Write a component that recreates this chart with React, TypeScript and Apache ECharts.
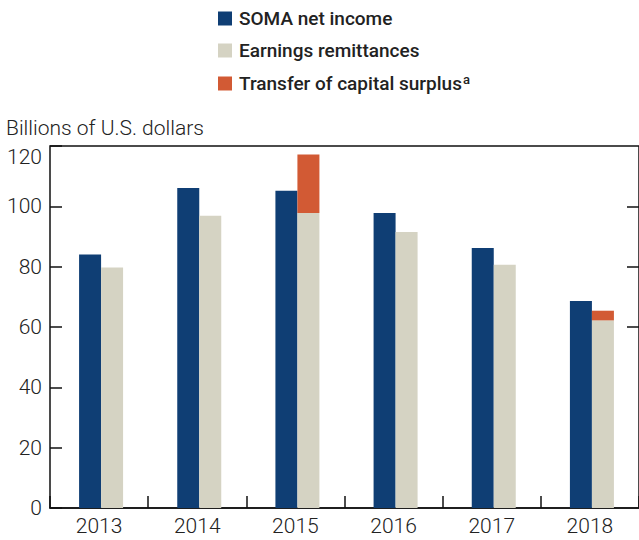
import React, { useEffect, useRef } from "react";
import * as echarts from "echarts";

const categories = ["2013", "2014", "2015", "2016", "2017", "2018"];
const somaNetIncome = [84.0, 106.1, 105.2, 97.8, 86.2, 68.6];
const earningsRemittances = [79.7, 96.9, 97.8, 91.5, 80.6, 62.2];
const capitalSurplusTransfer = [0, 0, 19.4, 0, 0, 3.2];
const spacer = [null, null, null, null, null, null];
const yTickLabels = [0, 20, 40, 60, 80, 100];
const yTopLabel = [120];
const rightTicks = [60, 80, 100];

const BLUE = "#0f3e74";
const BEIGE = "#d5d3c3";
const ORANGE = "#d25a34";
const TEXT = "#222222";
const FONT = "Roboto, 'Noto Sans', sans-serif";

export default function App() {
  const ref = useRef<HTMLDivElement>(null);
  useEffect(() => {
    if (!ref.current) return;
    const chart = echarts.init(ref.current, null, { renderer: "svg" });
    const labelStyle = {
      color: TEXT,
      fontFamily: FONT,
      fontSize: 21,
      fontWeight: 300,
    };
    chart.setOption({
      animation: false,
      backgroundColor: "#ffffff",
      textStyle: { fontFamily: FONT },
      title: {
        text: "Billions of U.S. dollars",
        left: 1,
        top: 112,
        textStyle: { ...labelStyle },
      },
      legend: {
        orient: "vertical",
        left: 213,
        top: 4,
        itemWidth: 14,
        itemHeight: 14,
        itemGap: 13,
        icon: "rect",
        textStyle: {
          color: TEXT,
          fontFamily: FONT,
          fontSize: 19,
          fontWeight: 500,
          padding: [0, 0, 0, 2],
          rich: {
            sup: {
              fontSize: 13,
              fontWeight: 500,
              color: TEXT,
              fontFamily: FONT,
              verticalAlign: "top",
              padding: [0, 0, 8, 1],
            },
          },
        },
        formatter: (name: string) =>
          name === "Transfer of capital surplus" ? name + "{sup|a}" : name,
        data: ["SOMA net income", "Earnings remittances", "Transfer of capital surplus"],
      },
      grid: {
        left: 50,
        top: 146,
        width: 592,
        bottom: 32,
        show: true,
        borderColor: "#111111",
        borderWidth: 1.5,
        backgroundColor: "transparent",
      },
      xAxis: {
        type: "category",
        data: categories,
        boundaryGap: true,
        axisLine: { show: true, lineStyle: { color: "#111111", width: 1.5 } },
        axisTick: {
          show: true,
          inside: true,
          length: 12,
          lineStyle: { color: "#111111", width: 1.5 },
        },
        axisLabel: { ...labelStyle, margin: 7 },
        splitLine: { show: false },
      },
      yAxis: [
        {
          type: "value",
          min: 0,
          max: 120,
          interval: 20,
          position: "left",
          axisLine: { show: false },
          axisTick: {
            show: true,
            inside: true,
            length: 12,
            lineStyle: { color: "#111111", width: 1.5 },
          },
          axisLabel: { ...labelStyle, margin: 8, customValues: yTickLabels },
          splitLine: { show: false },
        },
        {
          type: "value",
          min: 0,
          max: 120,
          interval: 20,
          position: "left",
          axisLine: { show: false },
          axisTick: { show: false },
          axisLabel: {
            ...labelStyle,
            margin: 8,
            verticalAlign: "top",
            customValues: yTopLabel,
          },
          splitLine: { show: false },
        },
        {
          type: "value",
          min: 0,
          max: 120,
          interval: 20,
          position: "right",
          axisLine: { show: false },
          axisTick: {
            show: true,
            inside: true,
            length: 12,
            customValues: rightTicks,
            lineStyle: { color: "#111111", width: 1.5 },
          },
          axisLabel: { show: false },
          splitLine: { show: false },
        },
      ],
      series: [
        {
          name: "spacer",
          type: "bar",
          stack: "s",
          data: spacer,
          barWidth: 4,
          barGap: "0%",
          silent: true,
          itemStyle: { color: "transparent" },
        },
        {
          name: "SOMA net income",
          type: "bar",
          stack: "a",
          data: somaNetIncome,
          barWidth: 22,
          barGap: "0%",
          itemStyle: { color: BLUE },
        },
        {
          name: "Earnings remittances",
          type: "bar",
          stack: "b",
          data: earningsRemittances,
          barWidth: 22,
          barGap: "0%",
          itemStyle: { color: BEIGE },
        },
        {
          name: "Transfer of capital surplus",
          type: "bar",
          stack: "b",
          data: capitalSurplusTransfer,
          barWidth: 22,
          barGap: "0%",
          itemStyle: { color: ORANGE },
        },
      ],
    });
    return () => chart.dispose();
  }, []);
  return (
    <div
      ref={ref}
      style={{ position: "fixed", left: 0, top: 0, width: 639, height: 540 }}
    />
  );
}
